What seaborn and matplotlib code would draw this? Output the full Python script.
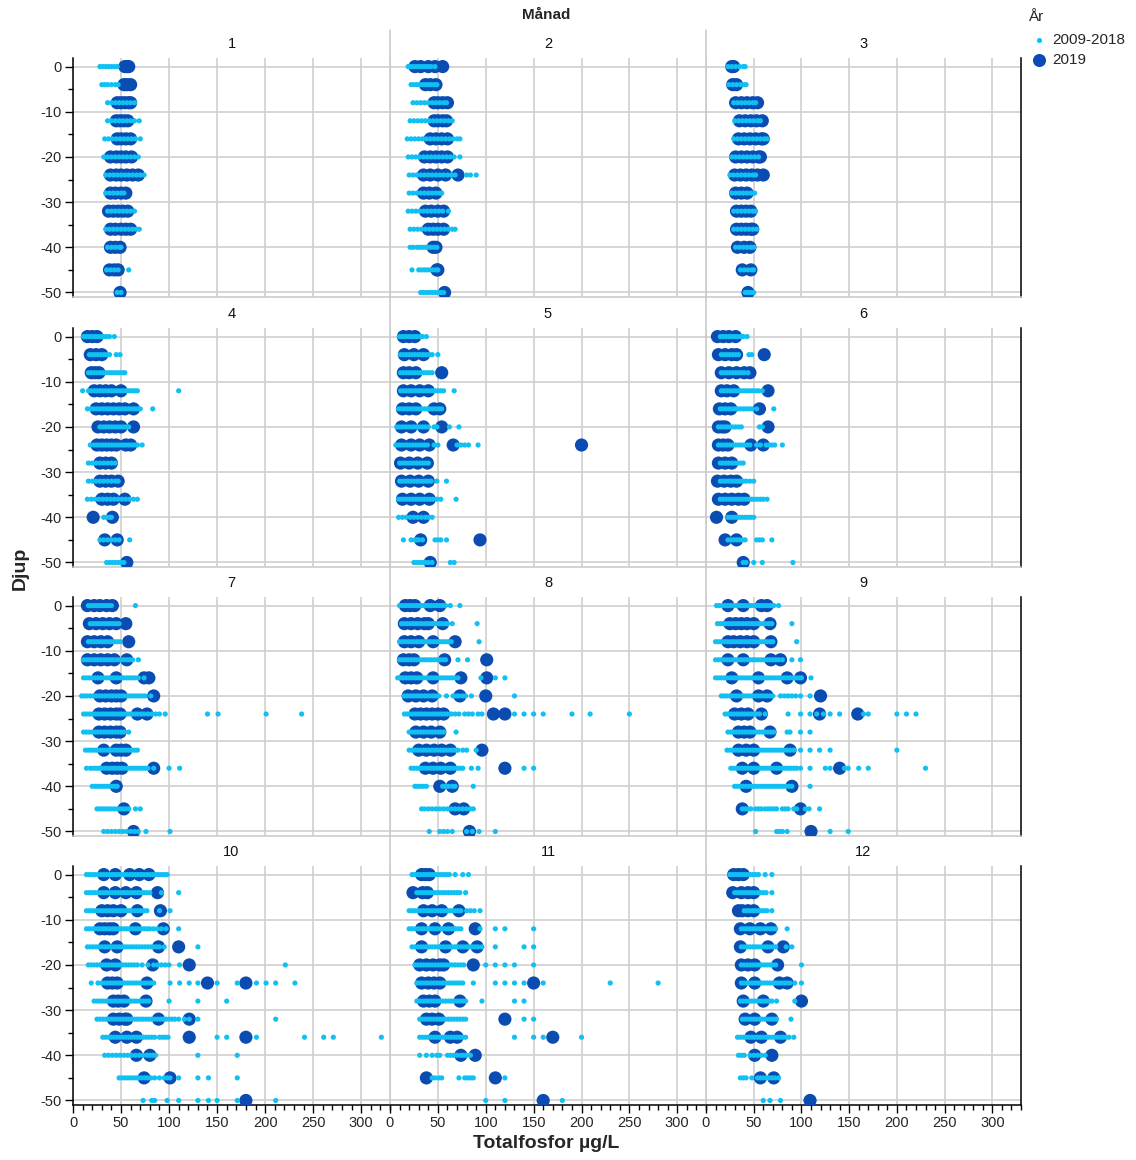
import numpy as np
import pandas as pd
import matplotlib
matplotlib.use("Agg")
import matplotlib.pyplot as plt
from matplotlib.lines import Line2D
from matplotlib.ticker import MultipleLocator
import seaborn as sns

sns.set_style("white")
plt.rcParams['font.family'] = ['Liberation Sans', 'DejaVu Sans']
plt.rcParams['axes.unicode_minus'] = False

DEPTHS = [0, -4, -8, -12, -16, -20, -24, -28, -32, -36, -40, -45, -50]
MONTHS = list(range(1, 13))
GROUPS = ["2009-2018", "2019"]

# ---- 2009-2018 values per depth (rows follow DEPTHS) ----
H1 = [[28,31,34,37,40,43,46],[30,33,36,40,44,47],[36,40,44,48,52,56,60,64],
      [36,40,44,48,52,56,60,64,69],[33,37,41,45,49,53,57,61,65,70],[32,36,40,44,48,52,56,60,64,68],
      [34,38,42,46,50,54,58,62,66,70,74],[34,38,42,46,50,53],[36,40,44,48,52,56,60,64],
      [34,38,42,46,50,54,58,62,66,69],[36,40,44,48,50],[35,39,43,47,58],[46,50]]
H2 = [[19,22,25,28,31,34,37,40,43,47],[22,25,28,31,34,37,40,43,46,49],[24,28,32,36,40,44,48,52,56,59],
      [21,25,29,33,37,41,45,49,53,57,61,65],[18,22,26,30,34,38,42,46,50,54,58,62,66,70,73],
      [19,23,27,31,35,39,43,47,51,55,59,63,67,73],[20,24,28,32,36,40,44,48,52,56,60,64,68,80,84,90],
      [20,24,28,32,36,40,44,48,52,54],[19,23,27,31,35,39,43,47,51,55,61],
      [21,25,29,33,37,41,45,49,53,57,61,65,68],[21,24,28,31,34,37,40,43,46,49],
      [23,30,33,36,39,42,45,48,50],[32,35,38,41,44,47,50,53,56]]
H3 = [[23,27,31,35,39,41],[24,28,32,36,40,42],[29,33,37,41,45,49,52],[30,34,38,42,46,50,54,57],
      [29,33,37,41,45,49,53,57,61,64],[27,31,35,39,43,47,51,55],[25,29,33,37,41,45,49,52],
      [27,31,35,39,43,47,51],[29,33,37,41,45,49,52],[29,33,37,41,45,49,53],[31,35,39,43,47,50],
      [36,40,44,48,50],[41,44,47,50]]
H4 = [[11,14,17,20,23,26,29,32,35,38,43],[17,20,23,26,29,32,35,38,45,49],
      [16,19,22,25,28,31,34,37,40,43,46,49,52,54],
      [10,16,19,22,25,28,31,34,37,40,43,46,49,52,55,58,61,64,67,110],
      [15,19,22,25,28,31,34,37,40,43,46,49,52,55,58,61,64,67,70,83],
      [28,31,34,37,40,43,46,49,52,55,58],
      [18,22,25,28,31,34,37,40,43,46,49,52,55,58,61,64,67,72],
      [16,20,24,28,32,36,40,44],[16,20,24,28,32,36,40,44,47],
      [15,19,23,27,31,35,39,43,47,51,55,59,63,67],[32,35,38,40],[28,32,36,40,44,48,59],
      [35,38,41,44,47,50,53]]
H5 = [[10,13,16,19,22,25,28,31,34,38],[11,14,17,20,23,26,29,32,35,38,41,44,50],
      [11,14,17,20,23,26,29,32,35,38,41,44],[11,14,17,20,23,26,29,32,35,38,41,44,47,50,53,56,67],
      [9,12,15,18,21,24,27,30,33,36,39,42,45,48,51,54],
      [7,10,13,16,19,22,25,28,31,34,37,40,46,49,62,72],
      [6,9,12,15,18,21,24,27,30,33,36,39,46,50,70,74,78,82,92],
      [10,13,16,19,22,25,28,31,34,37,40],[10,13,16,19,22,25,28,31,34,37,40,43,49,59],
      [9,12,15,18,21,24,27,30,33,36,39,42,45,49,53,69],[9,13,17,21,25,29,33,37,40,44],
      [14,22,26,28,30,34,47,50,53,59],[25,28,31,34,37,40,44,63,67]]
H6 = [[15,18,21,24,27,30,33,36,39,43],[16,19,22,25,28,31,34,45,48],[16,19,22,25,28,31,34,37,40,44],
      [16,19,22,25,28,31,34,37,40,43,46,49,52,55,59],[15,18,21,24,27,30,33,36,39,42,45,48,53,71],
      [13,16,19,22,25,28,31,34,37,56,59],
      [13,16,19,22,25,28,31,34,37,40,43,46,53,57,63,66,69,72,80],
      [15,18,21,24,27,30,33,36,39],[15,18,21,24,27,30,33,36,39,42,46,50],
      [15,18,21,24,27,30,33,36,39,42,45,48,51,54,57,60,64],[23,26,29,32,35,38,41,44,47,50],
      [23,26,29,32,35,38,41,53,56,59,69],[39,42,50,59,91]]
H7 = [[16,19,22,25,28,31,34,37,40,65],[18,21,24,27,30,33,36,39,42,45,48],
      [16,19,22,25,28,31,34,37,40,43,46,49],
      [11,14,17,20,23,26,29,32,35,38,41,44,47,50,53,56,59,62,68],
      [11,14,17,20,23,26,29,32,35,38,41,44,47,50,53,56,59,62,65,68,74],
      [9,12,15,18,21,24,27,30,33,36,39,42,45,48,51,54,57,60,63,66,69,72,75,81],
      [11,14,17,20,23,26,29,32,35,38,41,44,47,50,53,56,59,62,65,68,71,74,78,82,86,90,96,140,151,201,238],
      [11,14,17,20,23,26,29,32,35,38,41,44,47,50,53,58],
      [13,16,19,22,25,28,31,34,37,40,43,46,49,52,55,58,61,64,67],
      [14,18,21,24,27,30,33,36,39,42,45,48,51,54,57,60,63,66,69,72,75,78,84,100,111],
      [20,23,26,29,32,35,38,41,44,46],[25,28,31,34,37,40,43,46,49,52,55,58,65,70],
      [32,36,40,44,48,52,56,60,64,68,76,101]]
H8 = [[10,13,16,19,22,25,28,31,34,37,40,43,46,49,52,55,58,63,73],
      [12,15,18,21,24,27,30,33,36,39,42,45,48,51,54,57,60,65,91],
      [10,13,16,19,22,25,28,31,34,37,40,43,46,49,52,55,58,61,64,93],
      [10,13,16,19,22,25,28,31,34,37,40,43,46,49,52,55,58,71,81],
      [8,11,14,17,20,23,26,29,32,35,38,41,44,47,50,53,56,59,62,65,68,71,95,110,120],
      [15,18,21,24,27,30,33,36,39,42,45,48,51,59,66,69,72,76,79,85,130],
      [15,18,21,24,27,30,33,36,39,42,45,48,51,54,57,60,64,68,72,78,82,86,92,96,130,140,150,160,190,209,250],
      [20,23,26,29,32,35,38,41,44,47,50,53,56,69],
      [20,23,26,29,32,35,38,41,44,47,50,53,56,59,62,65,68,71,76,80,90],
      [22,25,28,31,34,37,40,43,46,49,52,55,58,61,64,67,70,73,76,85,92,140,150],
      [26,29,32,35,38,55,58,61,65,68,87],
      [33,36,40,44,48,52,56,60,64,68,72,76,80,84,87],[41,52,56,60,65,80,86,93,110]]
H9 = [[11,14,17,20,23,26,29,32,35,38,41,44,47,50,53,56,59,62,65,68,71,76],
      [12,15,18,21,24,27,30,33,36,39,42,45,48,51,54,57,60,63,66,69,90],
      [10,13,16,19,22,25,28,31,34,37,40,43,46,49,52,55,58,61,64,67,70,95],
      [10,13,16,19,22,25,28,31,34,37,40,43,46,49,52,55,58,61,64,67,70,73,76,80,90,99],
      [10,13,16,19,22,25,28,31,34,37,40,43,46,49,52,55,58,61,64,67,70,73,76,79,82,85,88,91,94,97,100,110],
      [16,19,22,25,28,31,34,37,40,43,46,49,52,55,58,61,64,67,70,78,82,86,90,94,99,109],
      [20,23,26,29,32,35,38,41,44,47,50,53,56,62,86,99,109,116,123,130,140,165,170,200,210,220],
      [23,26,29,32,35,38,41,44,47,50,53,56,59,62,65,68,71,85,88,99,109],
      [22,25,28,31,34,37,40,43,46,49,52,55,58,61,64,67,70,73,76,79,82,85,88,92,99,109,119,130,200],
      [26,29,32,35,38,41,44,47,50,53,56,59,62,65,68,71,74,77,80,83,86,89,92,95,99,109,125,130,145,149,160,170,230],
      [30,33,36,39,42,45,48,51,54,57,60,63,66,69,72,75,78,81,84,87,90,109],
      [38,41,44,47,52,55,58,62,65,68,71,74,80,83,86,92,95,104,108,119],
      [52,74,77,80,85,130,149]]
H10 = [[14,17,20,23,26,29,32,35,38,41,44,47,50,53,56,59,62,65,68,71,74,77,80,83,86,89,92,95,98],
       [14,17,20,23,26,29,32,35,38,41,44,47,50,53,56,59,62,65,68,71,74,77,80,92,110],
       [14,17,20,23,26,29,32,35,38,41,44,47,50,53,56,59,62,65,68,71,74,77,90,101],
       [14,17,20,23,26,29,32,35,38,41,44,47,50,53,56,59,62,65,68,71,74,77,80,84,88,92,97,110],
       [15,18,21,24,27,30,33,36,39,42,45,48,51,54,57,60,63,66,69,72,75,78,81,84,87,90,95,130],
       [16,19,22,25,28,31,34,37,40,43,46,49,52,55,58,61,64,67,72,78,84,88,92,96,100,111,221],
       [19,26,30,33,36,39,42,45,48,51,54,57,60,63,66,69,72,75,78,81,84,101,111,121,130,150,171,191,201,211,231],
       [22,25,28,31,34,37,40,43,46,49,52,55,58,61,64,67,70,73,76,79,100,130,160],
       [25,28,31,34,37,40,43,46,49,52,55,58,61,64,67,70,73,76,79,82,85,88,91,94,97,100,103,106,110,116,121,130,211],
       [31,34,37,40,43,46,49,52,55,58,61,64,67,70,73,76,79,82,85,90,93,96,99,150,160,191,241,261,271,321],
       [33,37,41,45,49,53,57,61,65,69,73,77,80,83,86,130,171],
       [48,51,54,57,60,63,66,69,72,75,78,81,85,90,95,98,101,110,130,141,171],
       [73,82,85,98,110,130,141,150,171,211]]
H11 = [[23,26,29,32,35,38,41,44,47,50,53,56,59,62,68,76,82],
       [28,31,34,37,40,43,46,49,52,55,58,61,64,67,70,73,79],
       [20,23,26,29,32,35,38,41,44,47,50,53,56,59,62,65,68,71,74,80,84,88,94],
       [20,23,26,29,32,35,38,41,44,47,50,53,56,59,62,65,68,71,74,94,110,120,150],
       [23,26,29,32,35,38,41,44,47,50,53,56,59,62,65,68,71,74,77,80,83,86,89,92,96,110,140,150],
       [26,29,32,35,38,41,44,47,50,53,56,59,62,65,68,71,74,77,100,110,120,130,150],
       [28,31,34,37,40,43,46,49,52,55,58,61,64,67,70,73,76,87,110,120,130,140,160,230,280],
       [28,31,34,37,40,43,46,49,52,55,58,61,64,67,70,73,76,79,96,130,140],
       [31,34,37,40,43,46,49,52,55,58,61,64,67,70,73,76,79,140,150],
       [31,34,37,40,43,46,49,52,55,58,61,64,67,70,73,76,79,130,150,160,200],
       [31,38,44,49,52,60,63,66,70,74,77,80,84],
       [44,47,51,54,72,78,81,84,87,120],[100,120,180]]
H12 = [[25,28,31,34,37,40,43,46,49,52,55,62,69],[30,33,36,39,42,45,48,51,54,57,60,63,69],
       [40,43,46,49,52,55,58,61,64,69],[37,40,43,46,49,52,55,58,61,64,67,70,73,85],
       [37,40,43,46,49,52,55,58,61,64,67,70,73,84,90],[37,40,43,46,49,52,55,58,61,64,67,70,73,100],
       [37,40,43,46,49,52,55,58,61,64,67,70,73,76,79,82,85,88,93,100],
       [36,39,42,45,48,51,54,57,60,63,66,69,74,93],[38,41,44,47,50,53,56,59,62,65,68,71,74,89],
       [33,36,39,42,45,48,51,54,57,60,63,66,69,72,75,78,81,84,87,92],
       [34,37,40,46,50,54,58,62],[36,39,42,48,54,57,60,63,66,69,72,76],[60,67,78]]

# ---- 2019 values per depth ----
N1 = [[54,56,58],[53,56,60],[46,50,54,58,60],[45,49,53,57],[46,50,55,60],[39,45,50,55,61],
      [39,45,50,56,62,68],[39,44,50,55],[37,42,47,52,57],[39,44,50,55,60],[39,44,49],[38,43,47],[49]]
N2 = [[26,32,40,47,55],[37,42,48],[46,50,55,60],[46,50,55,59],[42,48,54,60],[36,42,48,54,60],
      [35,42,50,58,71],[35,41,48],[37,43,50,56],[40,45,50,56],[45,48],[49,50],[57]]
N3 = [[27,29],[28,32],[31,37,43,49,54],[35,41,47,53,59],[34,40,46,52,58,60],[31,37,43,49,55,57],
      [30,36,42,48,54,60],[31,37,43],[32,37,42,47],[32,37,42,47,49],[33,40,46],[38,47],[44]]
N4 = [[15,20,25],[18,24,30],[19,23,27],[22,28,34,40,50],[24,30,36,42,48,54,63],[26,32,38,44,50,63],
      [25,30,35,40,45,55,60],[28,34,40],[28,34,40,47],[30,36,42,54],[21,41],[33,46],[56]]
N5 = [[14,20,26],[15,25,35],[14,20,27,54],[14,22,31,40],[13,20,27,46,52],[12,22,35,54],
      [12,22,31,41,66,200],[11,20,29,39],[12,21,30,40],[13,22,31,41],[24,35],[32,94],[42]]
N6 = [[12,18,24,31],[13,20,27,32,61],[16,24,32,40,46],[16,22,29,65],[14,20,26,56],[13,17,20,65],
      [13,18,23,47,60],[13,20,27],[12,19,26,32],[13,20,27,34,40],[11,27],[20,32],[39]]
N7 = [[15,22,28,35,41],[17,24,31,38,45,55],[15,22,29,36,58],[15,22,29,36,43,56],[26,45,74,79],
      [28,34,40,45,50,84],[27,33,39,45,49,67,77],[27,33,39,45,49],[32,45,50,55],[35,41,46,51,84],
      [45],[53],[63]]
N8 = [[16,21,26,42,52],[15,22,29,36,40,55],[15,22,30,45,68],[14,20,25,57,101],[16,22,28,45,74,101],
      [19,27,35,44,73,100],[26,32,38,44,50,56,108,120],[27,35,43,52],[30,38,46,54,63,96],
      [37,45,53,63,120],[52,65],[68,77],[83]]
N9 = [[23,39,58,64],[25,31,37,43,50,67],[23,29,36,43,50,68],[23,39,68,78],[27,55,85,99],
      [32,55,64,120],[30,37,44,58,119,159],[34,40,46,67],[34,42,50,88],[38,50,74,140],[42,90],
      [38,99],[110]]
N10 = [[32,44,59,69,79],[32,44,55,66,88],[30,36,42,50,67,91],[28,33,38,42,65,94],[33,46,89,110],
       [35,44,83,121],[36,41,46,77,140,180],[42,47,53,76],[42,48,54,56,89,121],[44,56,66,121,180],
       [66,80],[74,101],[180]]
N11 = [[33,37,41],[24,34,39],[35,44,54,72],[33,47,61,89],[33,58,76,91],[31,38,45,52,56,87],
       [33,40,46,52,150],[35,41,47,73],[38,44,51,120],[47,63,70,170],[74,89],[38,110],[160]]
N12 = [[29,34,39],[28,37,44,50],[34,38,44,50],[36,46,57,68],[36,65,81],[37,44,51,75],
       [37,51,77,85],[39,60,100],[41,51,69],[47,58,78],[51,69],[57,71],[109]]

HIST = [H1, H2, H3, H4, H5, H6, H7, H8, H9, H10, H11, H12]
NEW = [N1, N2, N3, N4, N5, N6, N7, N8, N9, N10, N11, N12]

records = []
for m, rows in zip(MONTHS, NEW):          # 2019 first -> drawn underneath
    for d, vals in zip(DEPTHS, rows):
        for v in vals:
            records.append((m, d, v, "2019"))
for m, rows in zip(MONTHS, HIST):
    for d, vals in zip(DEPTHS, rows):
        for v in vals:
            records.append((m, d, v, "2009-2018"))
df = pd.DataFrame(records, columns=["Månad", "Djup", "Totalfosfor", "År"])

LIGHT = "#10c0f2"
DARK = "#0a4cb2"
palette = {"2009-2018": LIGHT, "2019": DARK}
sizes = {"2009-2018": 14, "2019": 90}

W, H = 1136, 1160
fig = plt.figure(figsize=(W / 100, H / 100), dpi=100)

col_left = [73, 390, 706]
col_right = [390, 706, 1021]
row_top = [58, 328, 597, 866]
row_h = 239

GRID = "#d0d0d0"
SPINE_IN = "#c8c8c8"

for i, m in enumerate(MONTHS):
    r, c = divmod(i, 3)
    l = col_left[c]
    w = col_right[c] - l
    t = row_top[r]
    ax = fig.add_axes([l / W, 1 - (t + row_h) / H, w / W, row_h / H])
    sub = df[df["Månad"] == m]
    sns.scatterplot(data=sub, x="Totalfosfor", y="Djup", hue="År", size="År",
                    hue_order=GROUPS, size_order=GROUPS, palette=palette, sizes=sizes,
                    linewidth=0, alpha=1, legend=False, ax=ax, zorder=3)
    ax.set_xlim(0, 330)
    ax.set_ylim(-51, 1.9)
    ax.xaxis.set_major_locator(MultipleLocator(50))
    ax.xaxis.set_minor_locator(MultipleLocator(10))
    ax.yaxis.set_major_locator(MultipleLocator(10))
    ax.yaxis.set_minor_locator(MultipleLocator(5))
    ax.grid(True, which="major", color=GRID, linewidth=1.2, zorder=0)
    ax.set_axisbelow(True)
    ax.set_xlabel("")
    ax.set_ylabel("")
    ax.set_title(str(m), fontsize=10.5, pad=7, color="#111111")
    for s in ["top", "right", "bottom", "left"]:
        ax.spines[s].set_color(SPINE_IN)
        ax.spines[s].set_linewidth(1.1)
    ax.spines["top"].set_visible(False)
    if c != 2:
        ax.spines["right"].set_visible(False)
    else:
        ax.spines["right"].set_color("black")
    if c == 0:
        ax.spines["left"].set_color("black")
        ax.tick_params(axis="y", which="major", length=6, width=1, color="black",
                       labelsize=10.5, pad=2, left=True, labelleft=True)
        ax.tick_params(axis="y", which="minor", length=3.5, width=1, color="black", left=True)
    else:
        ax.tick_params(axis="y", which="both", left=False, labelleft=False)
    if r == 3:
        ax.spines["bottom"].set_color("black")
        ax.tick_params(axis="x", which="major", length=6, width=1, color="black",
                       labelsize=10.5, pad=2, bottom=True, labelbottom=True)
        ax.tick_params(axis="x", which="minor", length=3.5, width=1, color="black", bottom=True)
    else:
        ax.tick_params(axis="x", which="both", bottom=False, labelbottom=False)

# vertical dividers between facet columns
for xpx in [390, 706]:
    fig.add_artist(Line2D([xpx / W, xpx / W], [1 - 30 / H, 1 - 1105 / H],
                          color=SPINE_IN, linewidth=1.1, zorder=0))

fig.text(546 / W, 1 - 15 / H, "Månad", ha="center", va="center",
         fontsize=11, fontweight="bold")
fig.text(546 / W, 1 - 1143 / H, "Totalfosfor µg/L", ha="center", va="center",
         fontsize=14, fontweight="bold")
fig.text(20 / W, 1 - 568 / H, "Djup", ha="center", va="center", rotation=90,
         fontsize=14, fontweight="bold")

# legend (År)
fig.text(1028 / W, 1 - 17 / H, "År", ha="left", va="center", fontsize=11)
leg_items = [("2009-2018", LIGHT, 3.7, 40), ("2019", DARK, 9.4, 60)]
for lab, col, ms, ypx in leg_items:
    fig.add_artist(Line2D([1039 / W], [1 - ypx / H], linestyle="none", marker="o",
                          markersize=ms, markerfacecolor=col, markeredgewidth=0))
    fig.text(1052 / W, 1 - ypx / H, lab, ha="left", va="center", fontsize=11)

fig.savefig("out.png", dpi=100)
